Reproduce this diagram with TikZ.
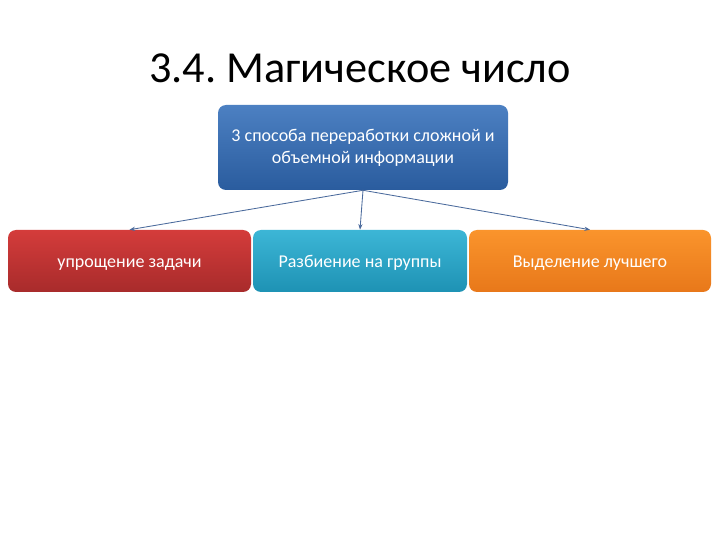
\documentclass[tikz,border=0pt]{standalone}
\usepackage{fontspec}
\setmainfont{Carlito}
\usepackage{xcolor}
\usetikzlibrary{positioning,arrows.meta}
\frenchspacing

\definecolor{topblue}{HTML}{4C80C2}
\definecolor{botblue}{HTML}{2A5C9E}
\definecolor{topred}{HTML}{D43C3B}
\definecolor{botred}{HTML}{A82B2B}
\definecolor{topteal}{HTML}{3CB6D6}
\definecolor{botteal}{HTML}{1E92B4}
\definecolor{toporange}{HTML}{FA942C}
\definecolor{botorange}{HTML}{E8781A}
\definecolor{linkcol}{HTML}{4A6A9C}

\begin{document}
\begin{tikzpicture}[
    slide/.style={rounded corners=0.2cm, text=white, align=center, inner sep=0pt,
                  font=\fontsize{12.8}{15.5}\selectfont},
    leaf/.style={slide, text height=2.3ex, text depth=0.45ex, minimum height=1.55cm},
    link/.style={draw=linkcol, line width=0.6pt, -{Stealth[length=4pt,width=3pt]}}
  ]
  \useasboundingbox[fill=white] (0,0) rectangle (18,13.5);

  \node (title) at (9.0,11.8) {\fontsize{31.5}{36}\selectfont 3.4. Магическое число};

  \node[slide, top color=topblue, bottom color=botblue,
        minimum width=7.25cm, minimum height=2.125cm] (ways) at (9.075,9.8125)
        {3 способа переработки сложной и\\объемной информации};

  \node[leaf, top color=topred, bottom color=botred,
        minimum width=6.075cm] (simple) at (3.2375,6.975)
        {упрощение задачи};
  \node[leaf, top color=topteal, bottom color=botteal,
        minimum width=5.35cm] (groups) at (9.0,6.975)
        {Разбиение на группы};
  \node[leaf, top color=toporange, bottom color=botorange,
        minimum width=6.05cm] (best) at (14.75,6.975)
        {Выделение лучшего};

  \foreach \b in {simple,groups,best}
    \draw[link] (ways.south) -- (\b.north);
\end{tikzpicture}
\end{document}
